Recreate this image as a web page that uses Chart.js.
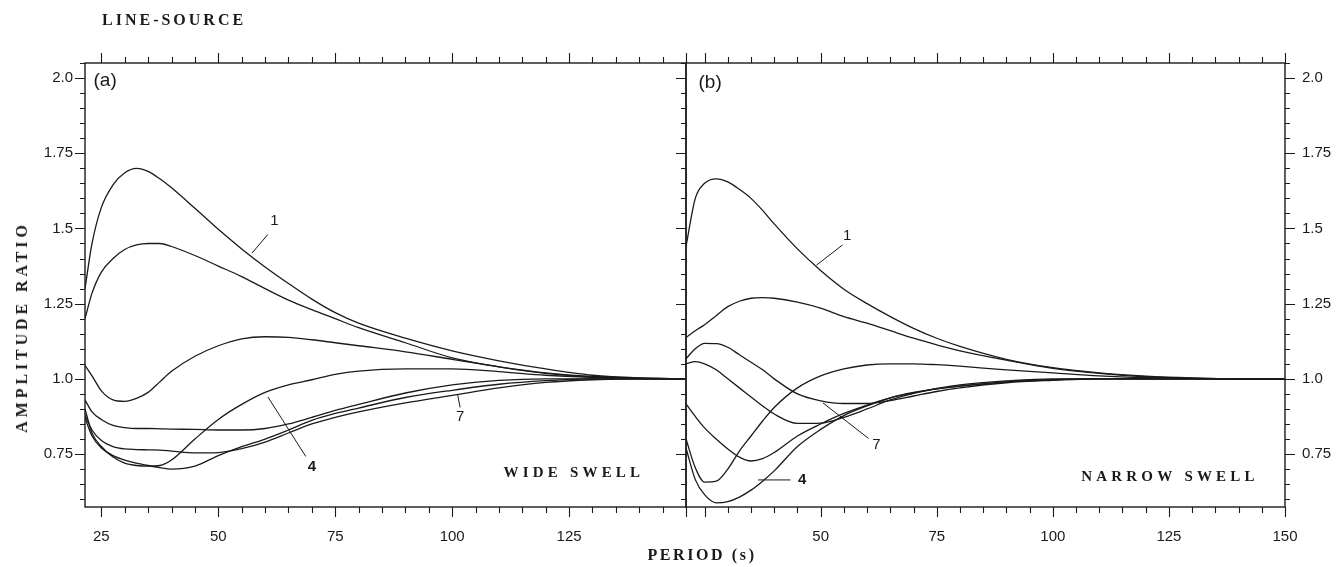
<!DOCTYPE html>
<html>
<head>
<meta charset="utf-8">
<script src="https://cdn.jsdelivr.net/npm/chart.js@4.4.1/dist/chart.umd.min.js"></script>
<style>
  body { margin: 0; background: #fff; }
  #wrap { position: relative; width: 1338px; height: 567px; overflow: hidden; }
  canvas { position: absolute; left: 0; top: 0; }
  .title { position: absolute; font-family: 'Liberation Serif', 'DejaVu Serif', serif; font-weight: bold;
           color: #1a1a1a; white-space: nowrap; line-height: 1; }
  #src { left: 102px; top: 12px; font-size: 16px; letter-spacing: 3px; }
  #ytitle { left: 22px; top: 327px; font-size: 16px; letter-spacing: 3.9px; transform: translate(-50%, -50%) rotate(-90deg); }
  #xtitle { left: 702px; top: 555px; font-size: 16px; letter-spacing: 2.6px; transform: translate(-50%, -50%); }
</style>
</head>
<body>
<div id="wrap">
  <canvas id="chartA" width="1338" height="567"></canvas>
  <canvas id="chartB" width="1338" height="567"></canvas>
  <div class="title" id="src">LINE-SOURCE</div>
  <div class="title" id="ytitle">AMPLITUDE RATIO</div>
  <div class="title" id="xtitle">PERIOD (s)</div>
</div>
<script>
// periods (s)
const periodsA = [21.5, 23, 25, 27.5, 30, 32.5, 35, 37.5, 40, 45, 50, 55, 60, 65, 70, 75, 80, 90, 100, 110, 120, 130, 140, 150];
const periodsB = [21, 23, 25, 27.5, 30, 32.5, 35, 37.5, 40, 45, 50, 55, 60, 65, 70, 75, 80, 90, 100, 110, 120, 130, 140, 150];

// (a) wide swell - amplitude ratios
const a1 = [1.30, 1.45, 1.57, 1.645, 1.685, 1.70, 1.69, 1.665, 1.635, 1.567, 1.497, 1.432, 1.372, 1.317, 1.265, 1.22, 1.185, 1.135, 1.093, 1.06, 1.033, 1.012, 1.003, 1.0];
const a2 = [1.20, 1.285, 1.355, 1.40, 1.43, 1.445, 1.45, 1.45, 1.44, 1.41, 1.375, 1.34, 1.30, 1.262, 1.23, 1.20, 1.17, 1.12, 1.07, 1.04, 1.018, 1.006, 1.002, 1.0];
const a3 = [1.045, 1.01, 0.96, 0.93, 0.925, 0.935, 0.955, 0.99, 1.025, 1.075, 1.11, 1.133, 1.14, 1.138, 1.13, 1.12, 1.11, 1.09, 1.065, 1.04, 1.02, 1.008, 1.002, 1.0];
const a4 = [0.90, 0.82, 0.775, 0.74, 0.72, 0.712, 0.71, 0.712, 0.73, 0.80, 0.865, 0.915, 0.955, 0.98, 0.997, 1.015, 1.026, 1.033, 1.033, 1.024, 1.012, 1.005, 1.001, 1.0];
const a5 = [0.87, 0.81, 0.77, 0.745, 0.73, 0.72, 0.712, 0.705, 0.70, 0.71, 0.745, 0.775, 0.80, 0.83, 0.862, 0.885, 0.903, 0.938, 0.962, 0.982, 0.994, 1.0, 1.0, 1.0];
const a6 = [0.93, 0.89, 0.865, 0.845, 0.838, 0.835, 0.835, 0.834, 0.833, 0.832, 0.83, 0.83, 0.835, 0.85, 0.872, 0.895, 0.915, 0.953, 0.98, 0.995, 1.0, 1.0, 1.0, 1.0];
const a7 = [0.88, 0.83, 0.795, 0.775, 0.767, 0.765, 0.764, 0.763, 0.76, 0.754, 0.755, 0.768, 0.79, 0.82, 0.85, 0.872, 0.89, 0.92, 0.945, 0.97, 0.988, 0.997, 1.0, 1.0];

// (b) narrow swell - amplitude ratios
const b1 = [1.44, 1.60, 1.65, 1.665, 1.655, 1.63, 1.60, 1.56, 1.515, 1.432, 1.36, 1.298, 1.25, 1.207, 1.168, 1.135, 1.108, 1.065, 1.037, 1.02, 1.009, 1.003, 1.0, 1.0];
const b2 = [1.137, 1.16, 1.18, 1.21, 1.24, 1.258, 1.268, 1.27, 1.268, 1.255, 1.235, 1.207, 1.185, 1.16, 1.135, 1.113, 1.093, 1.062, 1.035, 1.018, 1.007, 1.002, 1.0, 1.0];
const b3 = [1.067, 1.10, 1.118, 1.117, 1.105, 1.08, 1.055, 1.03, 1.0, 0.95, 0.927, 0.918, 0.918, 0.928, 0.943, 0.958, 0.97, 0.987, 0.995, 1.0, 1.0, 1.0, 1.0, 1.0];
const b4 = [1.05, 1.057, 1.05, 1.03, 1.0, 0.97, 0.94, 0.91, 0.883, 0.852, 0.853, 0.872, 0.90, 0.93, 0.952, 0.968, 0.98, 0.993, 1.0, 1.0, 1.0, 1.0, 1.0, 1.0];
const b5 = [0.917, 0.875, 0.837, 0.80, 0.767, 0.74, 0.727, 0.735, 0.755, 0.81, 0.85, 0.885, 0.913, 0.937, 0.953, 0.967, 0.976, 0.99, 0.997, 1.0, 1.0, 1.0, 1.0, 1.0];
const b6 = [0.80, 0.705, 0.657, 0.66, 0.70, 0.76, 0.81, 0.86, 0.905, 0.97, 1.01, 1.033, 1.046, 1.05, 1.05, 1.047, 1.042, 1.03, 1.02, 1.01, 1.004, 1.001, 1.0, 1.0];
const b7 = [0.77, 0.665, 0.615, 0.588, 0.592, 0.607, 0.63, 0.66, 0.694, 0.775, 0.832, 0.878, 0.91, 0.937, 0.955, 0.967, 0.976, 0.99, 0.997, 1.0, 1.0, 1.0, 1.0, 1.0];

// tick labels
const yTickLabels = [0.75, 1.0, 1.25, 1.5, 1.75, 2.0];
const xTickLabelsA = [25, 50, 75, 100, 125];
const xTickLabelsB = [50, 75, 100, 125, 150];

const ink = '#1a1a1a';
const tickFont = { family: "'Liberation Sans', Arial, sans-serif", size: 15 };

// curve labels with leader lines, in data units
const notesA = [
  { text: '1', at: [62.0, 1.525], from: [60.6, 1.48], to: [57.2, 1.418] },
  { text: '4', at: [70.0, 0.707], from: [68.7, 0.742], to: [60.6, 0.94], bold: true },
  { text: '7', at: [101.7, 0.873], from: [101.7, 0.905], to: [101.2, 0.946] }
];
const notesB = [
  { text: '1', at: [55.7, 1.475], from: [54.7, 1.445], to: [49.1, 1.378] },
  { text: '7', at: [62.0, 0.78], from: [60.3, 0.802], to: [50.5, 0.92] },
  { text: '4', at: [46.0, 0.664], from: [43.5, 0.664], to: [36.5, 0.664], bold: true }
];

function yLabel(v) {
  const hit = yTickLabels.find(l => Math.abs(l - v) < 1e-6);
  if (hit === undefined) return '';
  return Number.isInteger(hit) ? hit.toFixed(1) : String(hit);
}
function xLabeler(list) {
  return v => list.find(l => Math.abs(l - v) < 1e-6) !== undefined ? String(Math.round(v)) : '';
}
const isMajor = (v, step) => Math.abs(v / step - Math.round(v / step)) < 1e-6;

function series(xs, ys) {
  return {
    data: xs.map((x, i) => ({ x, y: ys[i] })),
    borderColor: ink,
    borderWidth: 1.3,
    pointRadius: 0,
    cubicInterpolationMode: 'monotone',
    fill: false
  };
}

// frame and tick marks, drawn from the chart's own scales
const frameTicks = {
  id: 'frameTicks',
  afterDraw(chart, args, opts) {
    const { ctx, chartArea: a, scales: { x, y } } = chart;
    ctx.save();
    ctx.strokeStyle = ink;
    ctx.lineWidth = 1.4;
    ctx.strokeRect(a.left, a.top, a.right - a.left, a.bottom - a.top);
    ctx.lineWidth = 1.1;
    ctx.beginPath();
    x.ticks.forEach(t => {
      const px = Math.round(x.getPixelForValue(t.value)) + 0.5;
      const len = isMajor(t.value, 25) ? 10 : 6;
      ctx.moveTo(px, a.bottom); ctx.lineTo(px, a.bottom + len);
      ctx.moveTo(px, a.top); ctx.lineTo(px, a.top - len);
    });
    y.ticks.forEach(t => {
      const py = Math.round(y.getPixelForValue(t.value)) + 0.5;
      const len = isMajor(t.value, 0.25) ? 10 : 5;
      ctx.moveTo(a.left, py); ctx.lineTo(a.left - len, py);
      if (opts.right) { ctx.moveTo(a.right, py); ctx.lineTo(a.right + len, py); }
    });
    ctx.stroke();
    ctx.restore();
  }
};

// panel letter, swell name and curve numbers
const notes = {
  id: 'notes',
  afterDatasetsDraw(chart, args, opts) {
    const { ctx, scales: { x, y } } = chart;
    const P = p => [x.getPixelForValue(p[0]), y.getPixelForValue(p[1])];
    ctx.save();
    ctx.fillStyle = ink;
    ctx.strokeStyle = ink;
    ctx.textAlign = 'center';
    ctx.textBaseline = 'middle';
    ctx.font = "19px 'Liberation Sans', Arial, sans-serif";
    const [lx, ly] = P(opts.letterAt);
    ctx.fillText(opts.letter, lx, ly);
    ctx.font = "bold 15px 'Liberation Serif', 'DejaVu Serif', serif";
    ctx.letterSpacing = '4.2px';
    const [sx, sy] = P(opts.nameAt);
    ctx.fillText(opts.name, sx + 2, sy);
    ctx.letterSpacing = '0px';
    ctx.lineWidth = 1;
    opts.list.forEach(n => {
      const [fx, fy] = P(n.from), [tx, ty] = P(n.to), [ax, ay] = P(n.at);
      ctx.beginPath(); ctx.moveTo(fx, fy); ctx.lineTo(tx, ty); ctx.stroke();
      ctx.font = (n.bold ? 'bold ' : '') + "15px 'Liberation Sans', Arial, sans-serif";
      ctx.fillText(n.text, ax, ay);
    });
    ctx.restore();
  }
};

function makeChart(id, cfg) {
  return new Chart(document.getElementById(id).getContext('2d'), {
    type: 'line',
    data: { datasets: cfg.curves.map(c => series(cfg.periods, c)) },
    plugins: [frameTicks, notes],
    options: {
      responsive: false,
      animation: false,
      devicePixelRatio: 1,
      layout: { padding: cfg.padding },
      plugins: {
        legend: { display: false },
        tooltip: { enabled: false },
        frameTicks: { right: cfg.rightAxis },
        notes: cfg.notes
      },
      scales: {
        x: {
          type: 'linear',
          min: cfg.xmin, max: 150,
          grid: { display: false },
          border: { display: false },
          ticks: { stepSize: 5, autoSkip: false, maxRotation: 0, includeBounds: false,
                   color: ink, font: tickFont, padding: 13, callback: xLabeler(cfg.xLabels) },
          afterFit: s => { s.height = 60; }
        },
        y: {
          position: cfg.rightAxis ? 'right' : 'left',
          min: 0.574, max: 2.05,
          grid: { display: false },
          border: { display: false },
          ticks: { stepSize: 0.05, autoSkip: false, includeBounds: false,
                   color: ink, font: tickFont, padding: cfg.rightAxis ? 9 : 4, callback: yLabel },
          afterFit: s => { s.width = cfg.rightAxis ? 53 : 85; }
        }
      }
    }
  });
}

makeChart('chartA', {
  periods: periodsA, curves: [a1, a2, a3, a4, a5, a6, a7], xmin: 21.5, xLabels: xTickLabelsA,
  padding: { top: 63, right: 652, left: 0, bottom: 0 }, rightAxis: false,
  notes: { letter: '(a)', letterAt: [25.8, 1.992], name: 'WIDE SWELL', nameAt: [125.6, 0.687], list: notesA }
});
makeChart('chartB', {
  periods: periodsB, curves: [b1, b2, b3, b4, b5, b6, b7], xmin: 21, xLabels: xTickLabelsB,
  padding: { top: 63, right: 0, left: 686, bottom: 0 }, rightAxis: true,
  notes: { letter: '(b)', letterAt: [26.2, 1.985], name: 'NARROW SWELL', nameAt: [124.8, 0.674], list: notesB }
});
</script>
</body>
</html>
